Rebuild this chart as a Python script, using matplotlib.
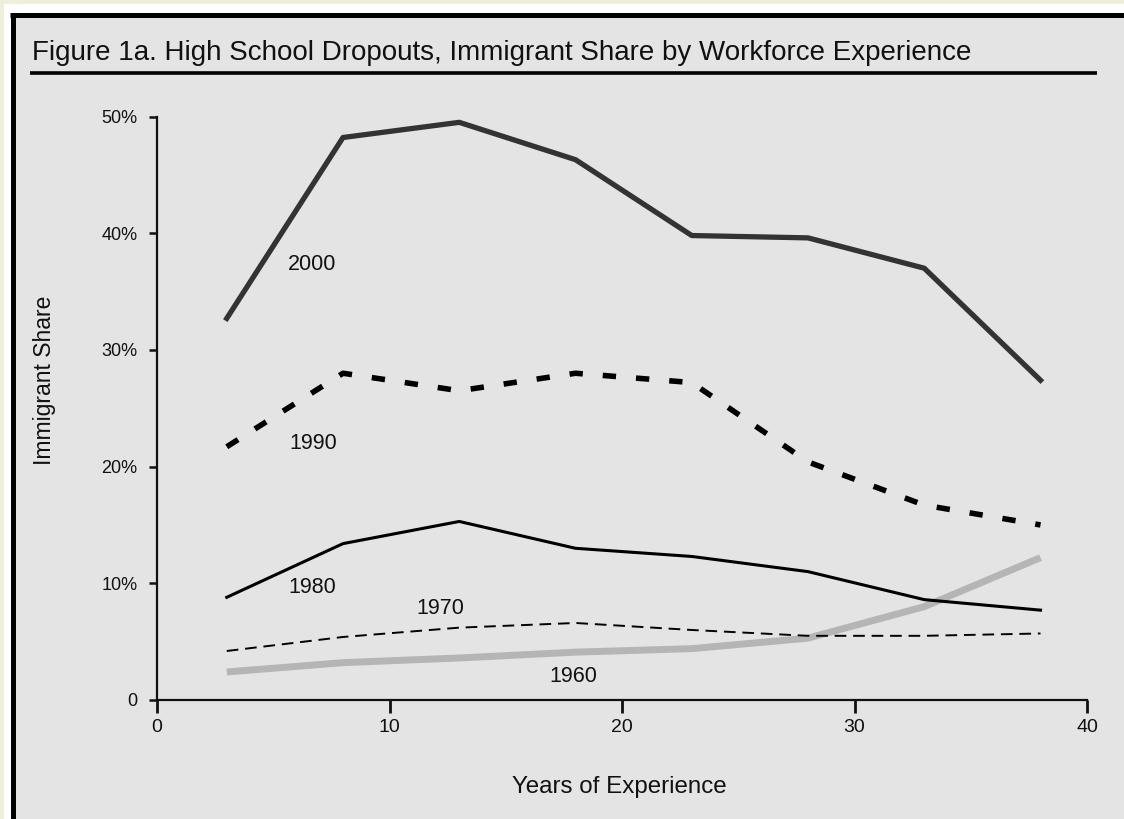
import matplotlib
matplotlib.use("Agg")
import matplotlib.pyplot as plt
import matplotlib.patches as mpatches
from matplotlib.lines import Line2D

# ── Data (immigrant share, %) ────────────────────────────────────────────────
experience = [3, 8, 13, 18, 23, 28, 33, 38]
share_2000 = [32.7, 48.2, 49.5, 46.3, 39.8, 39.6, 37.0, 27.4]
share_1990 = [21.7, 28.0, 26.5, 28.0, 27.2, 20.4, 16.7, 15.0]
share_1980 = [8.8, 13.4, 15.3, 13.0, 12.3, 11.0, 8.6, 7.7]
share_1970 = [4.2, 5.4, 6.2, 6.6, 6.0, 5.5, 5.5, 5.7]
share_1960 = [2.4, 3.2, 3.6, 4.1, 4.4, 5.3, 8.0, 12.2]

x_ticks = [0, 10, 20, 30, 40]
y_ticks = [0, 10, 20, 30, 40, 50]
y_tick_labels = ["0", "10%", "20%", "30%", "40%", "50%"]

TITLE = "Figure 1a. High School Dropouts, Immigrant Share by Workforce Experience"

# ── Style ────────────────────────────────────────────────────────────────────
W, H, DPI = 1124, 819, 100
FONT = ["Liberation Sans Narrow", "Liberation Sans", "DejaVu Sans"]
OUTER_BG = "#EEEEDB"
PANEL_BG = "#E4E4E4"
TEXT_COL = "#111111"
plt.rcParams["font.family"] = FONT


def fx(px):
    return px / W


def fy(py):
    return 1 - py / H


fig = plt.figure(figsize=(W / DPI, H / DPI), dpi=DPI, facecolor=OUTER_BG)

# frame: white strip, grey panel, heavy black left/top border
fig.add_artist(mpatches.Rectangle((fx(4), 0), 1, fy(4), transform=fig.transFigure,
                                  facecolor="white", edgecolor="none", zorder=0))
fig.add_artist(mpatches.Rectangle((fx(12), 0), 1, fy(15), transform=fig.transFigure,
                                  facecolor=PANEL_BG, edgecolor="none", zorder=0))
fig.add_artist(Line2D([fx(12.5), fx(12.5)], [0, fy(15)], transform=fig.transFigure,
                      color="black", lw=3.6, solid_capstyle="butt"))
fig.add_artist(Line2D([fx(10), 1], [fy(15), fy(15)], transform=fig.transFigure,
                      color="black", lw=3.6, solid_capstyle="butt"))

# title + rule
fig.text(fx(32), fy(53), TITLE, fontsize=20, ha="left", va="center", color=TEXT_COL)
fig.add_artist(Line2D([fx(30), fx(1097)], [fy(73), fy(73)], transform=fig.transFigure,
                      color="black", lw=2.6, solid_capstyle="butt"))

ax = fig.add_axes([fx(157), fy(700), fx(1087) - fx(157), fy(116.5) - fy(700)])
ax.set_facecolor("none")

ax.plot(experience, share_1960, color="#B5B5B5", lw=5.0, solid_capstyle="butt", zorder=2)
ax.plot(experience, share_1970, color="black", lw=1.4, dashes=(6, 3.5), zorder=3)
ax.plot(experience, share_1980, color="black", lw=2.2, zorder=3)
ax.plot(experience, share_1990, color="black", lw=4.0, dashes=(2.4, 3.6),
        dash_capstyle="butt", zorder=3)
ax.plot(experience, share_2000, color="#333333", lw=3.8, zorder=3)

label_kw = dict(fontsize=15.5, ha="center", va="center", color=TEXT_COL)
ax.text(6.67, 37.3, "2000", **label_kw)
ax.text(6.7, 22.0, "1990", **label_kw)
ax.text(6.67, 9.6, "1980", **label_kw)
ax.text(12.2, 7.8, "1970", **label_kw)
ax.text(17.9, 2.0, "1960", **label_kw)

ax.set_xlim(0, 40)
ax.set_ylim(0, 50)
ax.set_xticks(x_ticks)
ax.set_yticks(y_ticks)
ax.set_yticklabels(y_tick_labels)
for side in ("top", "right"):
    ax.spines[side].set_visible(False)
for side in ("left", "bottom"):
    ax.spines[side].set_linewidth(1.6)
    ax.spines[side].set_color(TEXT_COL)
ax.tick_params(axis="y", direction="out", length=6, width=1.8, pad=8,
               labelsize=13, colors=TEXT_COL)
ax.tick_params(axis="x", direction="out", length=9, width=2.0, pad=5,
               labelsize=14, colors=TEXT_COL)

fig.text(fx(619), fy(787), "Years of Experience", fontsize=17.4, ha="center",
         va="center", color=TEXT_COL)
fig.text(fx(45), fy(380), "Immigrant Share", fontsize=16.5, ha="center",
         va="center", rotation=90, color=TEXT_COL)

fig.savefig("out.png", dpi=DPI, facecolor=OUTER_BG)
